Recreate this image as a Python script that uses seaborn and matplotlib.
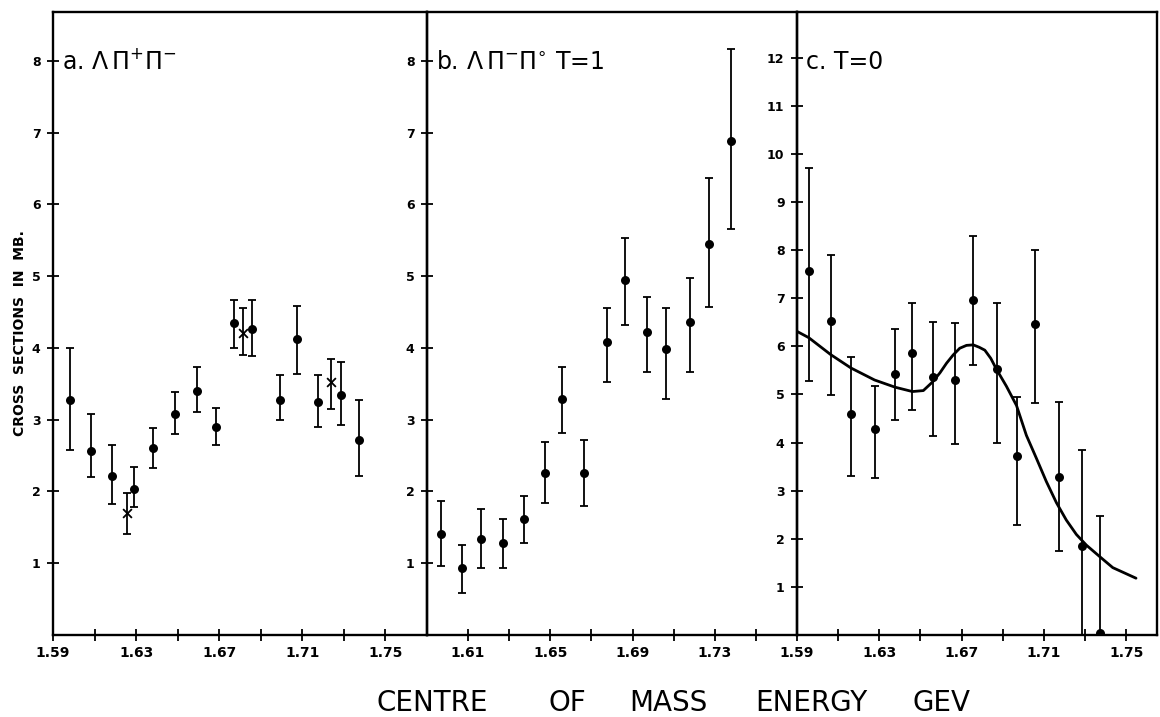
import matplotlib

matplotlib.use("Agg")

import matplotlib.pyplot as plt
import numpy as np
import pandas as pd
import seaborn as sns

# panel a: Lambda pi+ pi-  (filled circles)
a_energy = [1.5983, 1.6081, 1.6185, 1.6292, 1.6383, 1.6489, 1.6593, 1.6684,
            1.6772, 1.6860, 1.6991, 1.7076, 1.7175, 1.7288, 1.7372]
a_sigma = [3.28, 2.57, 2.21, 2.04, 2.61, 3.08, 3.40, 2.90,
           4.34, 4.26, 3.28, 4.12, 3.24, 3.34, 2.72]
a_upper = [4.00, 3.08, 2.65, 2.34, 2.89, 3.39, 3.73, 3.16,
           4.67, 4.67, 3.62, 4.58, 3.62, 3.80, 3.28]
a_lower = [2.58, 2.20, 1.83, 1.78, 2.33, 2.80, 3.10, 2.65,
           4.00, 3.88, 3.00, 3.64, 2.90, 2.93, 2.21]

# panel a: the three points drawn as crosses
ax_energy = [1.6257, 1.6815, 1.7239]
ax_sigma = [1.70, 4.21, 3.53]
ax_upper = [1.98, 4.55, 3.85]
ax_lower = [1.41, 3.90, 3.15]

# panel b: Lambda pi- pi0, T=1
b_energy = [1.5968, 1.6069, 1.6161, 1.6271, 1.6371, 1.6472, 1.6557, 1.6665,
            1.6778, 1.6862, 1.6968, 1.7063, 1.7180, 1.7273, 1.7381]
b_sigma = [1.40, 0.94, 1.34, 1.28, 1.61, 2.26, 3.29, 2.26,
           4.08, 4.95, 4.22, 3.99, 4.36, 5.45, 6.88]
b_upper = [1.86, 1.25, 1.76, 1.61, 1.93, 2.69, 3.74, 2.72,
           4.55, 5.53, 4.71, 4.56, 4.98, 6.37, 8.16]
b_lower = [0.96, 0.59, 0.93, 0.94, 1.28, 1.84, 2.82, 1.79,
           3.53, 4.32, 3.66, 3.29, 3.66, 4.57, 5.65]

# panel c: T=0
c_energy = [1.5957, 1.6063, 1.6162, 1.6277, 1.6377, 1.6461, 1.6559, 1.6669,
            1.6757, 1.6870, 1.6967, 1.7057, 1.7174, 1.7285, 1.7374]
c_sigma = [7.56, 6.53, 4.60, 4.29, 5.43, 5.87, 5.36, 5.30,
           6.97, 5.52, 3.71, 6.46, 3.29, 1.85, 0.05]
c_upper = [9.70, 7.90, 5.78, 5.18, 6.37, 6.90, 6.51, 6.49,
           8.29, 6.91, 4.95, 8.00, 4.84, 3.85, 2.48]
c_lower = [5.27, 4.99, 3.30, 3.27, 4.46, 4.68, 4.14, 3.98,
           5.61, 4.00, 2.28, 4.82, 1.75, 0.00, 0.00]

# fitted curve in panel c
fit_energy = [1.5900, 1.5957, 1.6063, 1.6162, 1.6277, 1.6377, 1.6461, 1.6514,
              1.6559, 1.6595, 1.6627, 1.6659, 1.6691, 1.6724, 1.6757, 1.6786,
              1.6813, 1.6842, 1.6870, 1.6918, 1.6967, 1.7015, 1.7064, 1.7112,
              1.7161, 1.7209, 1.7258, 1.7306, 1.7374, 1.7435, 1.7548]
fit_sigma = [6.31, 6.18, 5.83, 5.55, 5.30, 5.15, 5.06, 5.08,
             5.26, 5.45, 5.65, 5.82, 5.96, 6.02, 6.03, 5.98,
             5.92, 5.75, 5.52, 5.17, 4.77, 4.15, 3.67, 3.19,
             2.75, 2.39, 2.09, 1.87, 1.62, 1.40, 1.18]

panel_titles = [r"a. $\Lambda\,\Pi^{+}\Pi^{-}$",
                r"b. $\Lambda\,\Pi^{-}\Pi^{\circ}$ T=1",
                "c. T=0"]
x_words = ["CENTRE", "OF", "MASS", "ENERGY", "GEV"]
y_title = "CROSS  SECTIONS  IN  MB."


def draw_errors(ax, energy, sigma, upper, lower, marker, size):
    df = pd.DataFrame({"E": energy, "s": sigma, "hi": upper, "lo": lower})
    yerr = np.vstack([df["s"] - df["lo"], df["hi"] - df["s"]])
    ax.errorbar(df["E"], df["s"], yerr=yerr, fmt="none", ecolor="black",
                elinewidth=1.3, capsize=3.2, capthick=1.3, zorder=2)
    if marker == "x":
        sns.scatterplot(data=df, x="E", y="s", ax=ax, marker="x", s=size,
                        color="black", linewidth=1.3, zorder=3, legend=False)
    else:
        sns.scatterplot(data=df, x="E", y="s", ax=ax, marker="o", s=size,
                        color="black", edgecolor="black", linewidth=0,
                        zorder=3, legend=False)


def style_axis(ax, ymax, yticks, major, minor):
    ax.set_xlim(1.59, 1.77)
    ax.set_ylim(0, ymax)
    ax.set_yticks(yticks)
    ax.set_yticklabels([str(t) for t in yticks])
    ax.set_xticks(major)
    ax.set_xticklabels([f"{t:.2f}" for t in major])
    ax.set_xticks(minor, minor=True)
    ax.tick_params(axis="both", which="both", direction="inout", length=8,
                   width=1.3, color="black", labelcolor="black")
    ax.tick_params(axis="x", which="major", labelsize=10, pad=4)
    ax.tick_params(axis="y", which="major", labelsize=9, pad=5)
    for lab in ax.get_xticklabels() + ax.get_yticklabels():
        lab.set_fontweight("bold")
    ax.tick_params(right=False, top=False)
    for sp in ax.spines.values():
        sp.set_linewidth(1.7)
        sp.set_color("black")
    ax.set_xlabel("")
    ax.set_ylabel("")


sns.set_style("ticks")
plt.rcParams["font.family"] = ["DejaVu Sans"]
plt.rcParams["text.color"] = "black"
plt.rcParams["xtick.color"] = "black"
plt.rcParams["ytick.color"] = "black"

fig = plt.figure(figsize=(11.6, 7.17), dpi=100)
bottom, height = 0.1144, 0.8689
ax_a = fig.add_axes([0.0457, bottom, 0.3224, height])
ax_b = fig.add_axes([0.3681, bottom, 0.3190, height])
ax_c = fig.add_axes([0.6871, bottom, 0.3103, height])

# panel a
draw_errors(ax_a, a_energy, a_sigma, a_upper, a_lower, "o", 42)
draw_errors(ax_a, ax_energy, ax_sigma, ax_upper, ax_lower, "x", 40)
style_axis(ax_a, 8.68, list(range(1, 9)),
           [1.59, 1.63, 1.67, 1.71, 1.75], [1.61, 1.65, 1.69, 1.73])

# panel b
draw_errors(ax_b, b_energy, b_sigma, b_upper, b_lower, "o", 42)
style_axis(ax_b, 8.68, list(range(1, 9)),
           [1.61, 1.65, 1.69, 1.73], [1.63, 1.67, 1.71, 1.75])

# panel c
draw_errors(ax_c, c_energy, c_sigma, c_upper, c_lower, "o", 42)
fit = pd.DataFrame({"E": fit_energy, "s": fit_sigma})
sns.lineplot(data=fit, x="E", y="s", ax=ax_c, color="black", linewidth=2.0,
             sort=False, estimator=None, zorder=2)
style_axis(ax_c, 12.95, list(range(1, 13)),
           [1.59, 1.63, 1.67, 1.71, 1.75], [1.61, 1.65, 1.69, 1.73])
ax_c.set_xlim(1.59, 1.765)

for ax, title in zip([ax_a, ax_b, ax_c], panel_titles):
    ax.text(0.025, 0.92, title, transform=ax.transAxes, fontsize=17,
            ha="left", va="center", color="black")

# make sure the y tick labels of b and c sit on top of the left neighbour
ax_b.set_zorder(2)
ax_c.set_zorder(3)
ax_b.patch.set_alpha(0)
ax_c.patch.set_alpha(0)

word_left = [377, 549, 629, 755, 913]
for word, px in zip(x_words, word_left):
    fig.text(px / 1160, 0.0195, word, fontsize=20, ha="left", va="center",
             color="black")

fig.text(0.017, 0.536, y_title, rotation=90, fontsize=10, fontweight="bold",
         ha="center", va="center", color="black")

fig.savefig("out.png", dpi=100)
